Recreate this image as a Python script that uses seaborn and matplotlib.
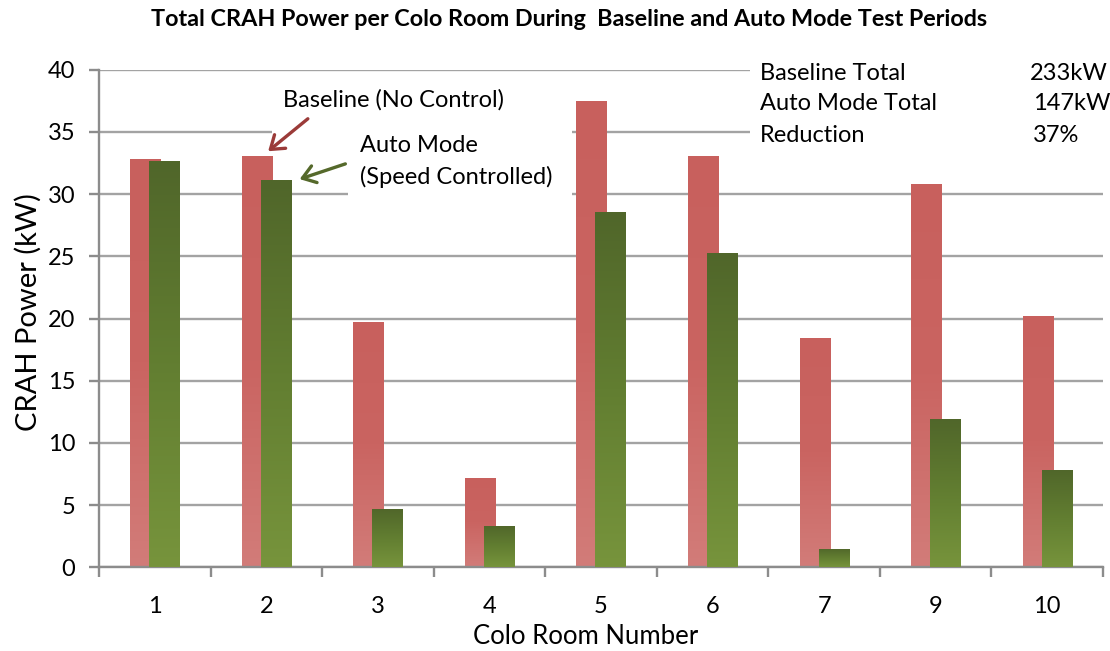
import numpy as np
import pandas as pd
import matplotlib
matplotlib.use("Agg")
import matplotlib.pyplot as plt
import seaborn as sns
from matplotlib.colors import LinearSegmentedColormap
from matplotlib.patches import Rectangle, FancyArrowPatch

# ---------------- data ----------------
rooms = ["1", "2", "3", "4", "5", "6", "7", "9", "10"]
baseline_kw = [32.8, 33.1, 19.7, 7.2, 37.5, 33.1, 18.4, 30.8, 20.2]
auto_kw = [32.7, 31.1, 4.7, 3.3, 28.6, 25.3, 1.5, 11.9, 7.8]
y_ticks = [0, 5, 10, 15, 20, 25, 30, 35, 40]
summary_labels = ["Baseline Total", "Auto Mode Total", "Reduction"]
summary_values = ["233kW", "147kW", "37%"]
title = "Total CRAH Power per Colo Room During  Baseline and Auto Mode Test Periods"

# ---------------- style ----------------
sns.set_theme(style="white")
plt.rcParams['font.family'] = ['Lato', 'DejaVu Sans']

W, H = 1110, 651
fig = plt.figure(figsize=(W / 100, H / 100), dpi=100)
L, R, T, B = 99, 1103, 69.7, 567.3
ax = fig.add_axes([L / W, 1 - B / H, (R - L) / W, (B - T) / H])

def fx(px):
    return px / W

def fy(py):
    return 1 - py / H

idx = np.arange(len(rooms))
off, bw = 0.085, 0.27
df_b = pd.DataFrame({"pos": idx - off, "kW": baseline_kw})
df_a = pd.DataFrame({"pos": idx + off, "kW": auto_kw})
sns.barplot(data=df_b, x="pos", y="kW", native_scale=True, width=bw, color="#cb6865",
            saturation=1, errorbar=None, linewidth=0, ax=ax, zorder=2)
sns.barplot(data=df_a, x="pos", y="kW", native_scale=True, width=bw, color="#607a31",
            saturation=1, errorbar=None, linewidth=0, ax=ax, zorder=3)

# gradients
cmap_b = LinearSegmentedColormap.from_list("b", ["#d27c79", "#ca6461", "#c8605d"])
cmap_a = LinearSegmentedColormap.from_list("a", ["#77943c", "#627e31", "#50662a"])
grad = np.linspace(0, 1, 256).reshape(-1, 1)
patches = list(ax.patches)
for i, p in enumerate(patches):
    cmap = cmap_b if i < len(rooms) else cmap_a
    x0, y0, w, h = p.get_x(), p.get_y(), p.get_width(), p.get_height()
    im = ax.imshow(grad, cmap=cmap, extent=[x0, x0 + w, y0, y0 + h], origin="lower",
                   aspect="auto", zorder=p.get_zorder() + 0.1, interpolation="bilinear")
    im.set_clip_path(p)
ax.set_xlim(-0.5, len(rooms) - 0.5)
ax.set_ylim(0, 40)

# grid, spines, ticks
ax.set_axisbelow(True)
ax.yaxis.grid(True, color="#a3a3a3", linewidth=1.7)
ax.xaxis.grid(False)
for s in ["top", "right"]:
    ax.spines[s].set_visible(False)
for s in ["left", "bottom"]:
    ax.spines[s].set_color("#8c8c8c")
    ax.spines[s].set_linewidth(1.7)

ax.set_yticks(y_ticks)
ax.set_yticklabels([str(v) for v in y_ticks])
ax.tick_params(axis="y", left=True, direction="out", length=7, width=1.7,
               color="#8c8c8c", labelsize=17, pad=10, labelcolor="black")
ax.set_xticks(idx)
ax.set_xticklabels(rooms)
ax.tick_params(axis="x", which="major", bottom=False, length=0, pad=21,
               labelsize=17, labelcolor="black")
ax.set_xticks(np.arange(-0.5, len(rooms), 1), minor=True)
ax.tick_params(axis="x", which="minor", bottom=True, direction="out", length=7,
               width=1.7, color="#8c8c8c")

ax.set_xlabel("Colo Room Number", fontsize=18.5, color="black", va="center")
ax.xaxis.set_label_coords((586 - L) / (R - L), (B - 637) / (B - T))
ax.set_ylabel("CRAH Power (kW)", fontsize=21, color="black", va="center",
              rotation_mode="default")
ax.yaxis.set_label_coords((28 - L) / (R - L), (B - 312) / (B - T))

# white boxes behind annotations (hide grid segments)
for (x0, y0, x1, y1) in [(272, 84, 572, 142), (348, 140, 572, 202), (750, 52, 1110, 150)]:
    ax.add_patch(Rectangle((fx(x0), fy(y1)), fx(x1) - fx(x0), fy(y0) - fy(y1),
                           transform=fig.transFigure, facecolor="white",
                           edgecolor="none", zorder=1, clip_on=False))

# title
fig.text(fx(569), fy(19), title, ha="center", va="center", fontsize=16.8,
         fontweight="bold", color="black")

# summary
for i, (lab, val) in enumerate(zip(summary_labels, summary_values)):
    yy = 73 + i * 31
    fig.text(fx(760), fy(yy), lab, ha="left", va="center", fontsize=17, color="black")
    fig.text(fx(1030 if i == 0 else 1033), fy(yy), val, ha="left", va="center",
             fontsize=17, color="black")

# annotations
fig.text(fx(283), fy(100), "Baseline (No Control)", ha="left", va="center",
         fontsize=17, color="black")
fig.text(fx(360), fy(146), "Auto Mode", ha="left", va="center", fontsize=17, color="black")
fig.text(fx(360), fy(177), "(Speed Controlled)", ha="left", va="center",
         fontsize=17, color="black")
for (p0, p1, col) in [((310, 117), (266, 153), "#9b3b39"), ((348, 163), (297, 180), "#55692b")]:
    arr = FancyArrowPatch((fx(p0[0]), fy(p0[1])), (fx(p1[0]), fy(p1[1])),
                          transform=fig.transFigure, arrowstyle="->,head_length=5,head_width=3.5",
                          color=col, linewidth=2.4, mutation_scale=1.8)
    fig.add_artist(arr)

fig.savefig("out.png", dpi=100)
